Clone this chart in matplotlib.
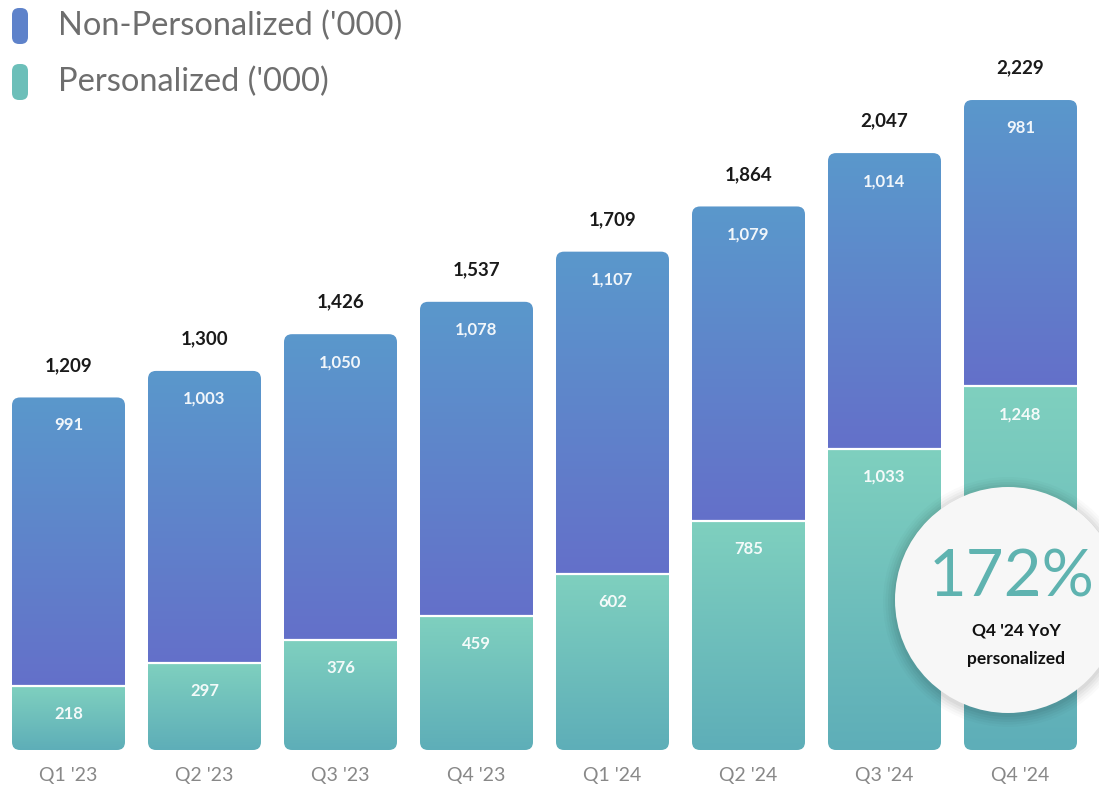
import numpy as np
import matplotlib
matplotlib.use("Agg")
from matplotlib import pyplot as plt
from matplotlib.patches import FancyBboxPatch, Circle
from matplotlib.colors import LinearSegmentedColormap

quarters = ["Q1 '23", "Q2 '23", "Q3 '23", "Q4 '23", "Q1 '24", "Q2 '24", "Q3 '24", "Q4 '24"]
personalized = [218, 297, 376, 459, 602, 785, 1033, 1248]
non_personalized = [991, 1003, 1050, 1078, 1107, 1079, 1014, 981]
totals = [1209, 1300, 1426, 1537, 1709, 1864, 2047, 2229]

plt.rcParams['font.family'] = ['Lato', 'DejaVu Sans']

# gradient maps (bottom -> top)
blue_cm = LinearSegmentedColormap.from_list('blue', ['#6470c9', '#5a98cc'])
teal_cm = LinearSegmentedColormap.from_list('teal', ['#5eaeb8', '#7fd0bf'])
grad = np.linspace(0, 1, 256).reshape(-1, 1)

W, H, DPI = 1099, 792, 100
fig = plt.figure(figsize=(W / DPI, H / DPI), dpi=DPI)
ax = fig.add_axes([0, 0, 1, 1])
ax.set_axis_off()

# pixel <-> data mapping
step_px = 136.0
ypx = 0.2916          # px per unit
x_left = -68.5 / step_px
x_right = (W - 68.5) / step_px
y_bot = -(H - 750) / ypx
y_top = 750 / ypx
width = 113 / step_px
r_x = 8 / step_px
r_y = 8 / ypx

for i, (p, n, t) in enumerate(zip(personalized, non_personalized, totals)):
    x0 = i - width / 2
    x1 = i + width / 2
    bar = FancyBboxPatch((x0, 0), width, t,
                         boxstyle="round,pad=0,rounding_size=%f" % r_x,
                         mutation_aspect=r_y / r_x,
                         facecolor='none', edgecolor='none')
    ax.add_patch(bar)
    im1 = ax.imshow(grad, extent=(x0, x1, 0, p), origin='lower',
                    aspect='auto', cmap=teal_cm, zorder=2)
    im1.set_clip_path(bar)
    im2 = ax.imshow(grad, extent=(x0, x1, p, t), origin='lower',
                    aspect='auto', cmap=blue_cm, zorder=2)
    im2.set_clip_path(bar)
    ax.plot([x0, x1], [p, p], color='white', linewidth=1.6, zorder=3)

    ax.text(i, p - 28 / ypx, '{:,}'.format(p), ha='center', va='center',
            color='white', fontsize=12, fontweight='bold', alpha=0.92, zorder=4)
    ax.text(i, t - 28 / ypx, '{:,}'.format(n), ha='center', va='center',
            color='white', fontsize=12, fontweight='bold', alpha=0.92, zorder=4)
    ax.text(i, t + 32 / ypx, '{:,}'.format(t), ha='center', va='center',
            color='#1a1a1a', fontsize=13.5, fontweight='bold', zorder=4)
    ax.text(i, -26 / ypx, quarters[i], ha='center', va='center',
            color='#888888', fontsize=14, zorder=4)

ax.set_xlim(x_left, x_right)
ax.set_ylim(y_bot, y_top)

# legend
for ypos, label, col in [(26, "Non-Personalized ('000)", '#5e82ca'),
                         (82, "Personalized ('000)", '#6cbfb9')]:
    mk = FancyBboxPatch((12 / W, 1 - (ypos + 18) / H), 16 / W, 36 / H,
                        boxstyle="round,pad=0,rounding_size=%f" % (7 / W),
                        mutation_aspect=W / H,
                        transform=fig.transFigure, facecolor=col,
                        edgecolor='none')
    fig.patches.append(mk)
    fig.text(58 / W, 1 - ypos / H, label, ha='left', va='center',
             color='#6e6e6e', fontsize=23.5)

# highlight circle
cx, cy, rad = 1008 / DPI, (H - 600) / DPI, 113 / DPI
for k, a in enumerate([0.02, 0.025, 0.03, 0.035, 0.04]):
    ax.add_patch(Circle((cx, cy - 0.02), rad + 0.12 - k * 0.025,
                        transform=fig.dpi_scale_trans, facecolor='#000000',
                        edgecolor='none', alpha=a, zorder=5))
ax.add_patch(Circle((cx, cy), rad, transform=fig.dpi_scale_trans,
                    facecolor='#f7f7f7', edgecolor='none', zorder=6))
fig.text(1012 / W, 1 - 578 / H, '172%', ha='center', va='center',
         color='#5fb3b0', fontsize=47, zorder=7)
fig.text(1016 / W, 1 - 631 / H, "Q4 '24 YoY", ha='center', va='center',
         color='#111111', fontsize=12.5, fontweight='bold', zorder=7)
fig.text(1016 / W, 1 - 659 / H, 'personalized', ha='center', va='center',
         color='#111111', fontsize=12.5, fontweight='bold', zorder=7)

fig.savefig('out.png', dpi=DPI)
